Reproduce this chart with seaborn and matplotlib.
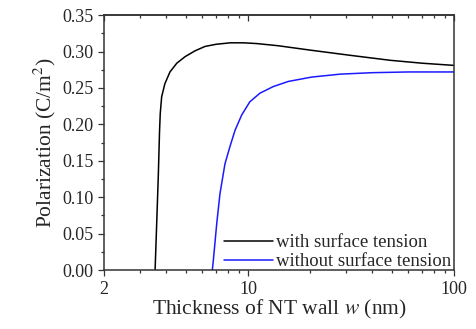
import numpy as np
import pandas as pd
import matplotlib
matplotlib.use("Agg")
import matplotlib.pyplot as plt
import seaborn as sns
from matplotlib.ticker import FixedLocator, NullFormatter, MultipleLocator

# wall thickness (nm) and polarization (C/m^2)
w_with = [3.54, 3.60, 3.67, 3.72, 3.75, 3.81, 3.95, 4.18, 4.51, 4.95, 5.53,
          6.18, 7.0, 8.2, 9.5, 11.0, 14.0, 20.0, 31.0, 49.0, 70.0, 100.0]
p_with = [0.0, 0.06, 0.13, 0.19, 0.215, 0.238, 0.256, 0.272, 0.284, 0.293, 0.301,
          0.307, 0.310, 0.312, 0.312, 0.311, 0.308, 0.302, 0.295, 0.288, 0.284, 0.281]

w_without = [6.71, 6.79, 7.05, 7.31, 7.73, 8.18, 8.65, 9.32, 10.2, 11.44, 13.27,
             15.7, 20.4, 28.0, 40.0, 60.0, 100.0]
p_without = [0.0, 0.014, 0.064, 0.105, 0.146, 0.17, 0.192, 0.213, 0.231, 0.243, 0.252,
             0.259, 0.265, 0.269, 0.271, 0.272, 0.272]

labels = ["with surface tension", "without surface tension"]
xticks = [2, 10, 100]
xminor = [3, 4, 5, 6, 7, 8, 9, 20, 30, 40, 50, 60, 70, 80, 90]

df = pd.concat([
    pd.DataFrame({"w": w_with, "P": p_with, "case": labels[0]}),
    pd.DataFrame({"w": w_without, "P": p_without, "case": labels[1]}),
])

sns.set_style("ticks")
plt.rcParams["font.family"] = ["Liberation Serif", "DejaVu Serif"]
plt.rcParams["mathtext.fontset"] = "stix"

fig = plt.figure(figsize=(4.77, 3.29), dpi=100)
ax = fig.add_axes([0.218, 0.179, 0.734, 0.775])

sns.lineplot(data=df, x="w", y="P", hue="case", palette=["black", "#1a1aff"],
             linewidth=1.1, ax=ax, sort=False)

ax.set_xscale("log")
ax.set_xlim(2, 100)
ax.set_ylim(0, 0.35)

ax.xaxis.set_major_locator(FixedLocator(xticks))
ax.set_xticklabels([str(t) for t in xticks])
ax.xaxis.set_minor_locator(FixedLocator(xminor))
ax.xaxis.set_minor_formatter(NullFormatter())
ax.yaxis.set_major_locator(MultipleLocator(0.05))
ax.yaxis.set_minor_locator(MultipleLocator(0.025))
ax.set_yticklabels([f"{v:.2f}" for v in ax.get_yticks()])

ax.tick_params(axis="both", which="major", labelsize=13, length=4, width=0.9, color="#333333")
ax.tick_params(axis="both", which="minor", length=2.5, width=0.9, color="#333333")
for spine in ax.spines.values():
    spine.set_visible(True)
    spine.set_linewidth(1.1)
    spine.set_color("#333333")

# top axis: ticks pointing inward, no labels
top = ax.secondary_xaxis("top")
top.xaxis.set_major_locator(FixedLocator(xticks))
top.xaxis.set_minor_locator(FixedLocator(xminor))
top.xaxis.set_major_formatter(NullFormatter())
top.xaxis.set_minor_formatter(NullFormatter())
top.tick_params(which="major", direction="in", length=4, width=0.9, color="#333333")
top.tick_params(which="minor", direction="in", length=2.5, width=0.9, color="#333333")
top.spines["top"].set_linewidth(1.1)
top.spines["top"].set_color("#333333")

ax.set_xlabel("Thickness of NT wall $w$ (nm)", fontsize=15.5, labelpad=0)
ax.set_ylabel("Polarization (C/m$^2$)", fontsize=15.5, labelpad=3)

ax.legend(frameon=False, loc="lower right", bbox_to_anchor=(1.012, -0.03),
          fontsize=13.5, handlelength=2.6, handletextpad=0.15,
          borderaxespad=0.0, labelspacing=0.1)

fig.savefig("out.png", dpi=100)
